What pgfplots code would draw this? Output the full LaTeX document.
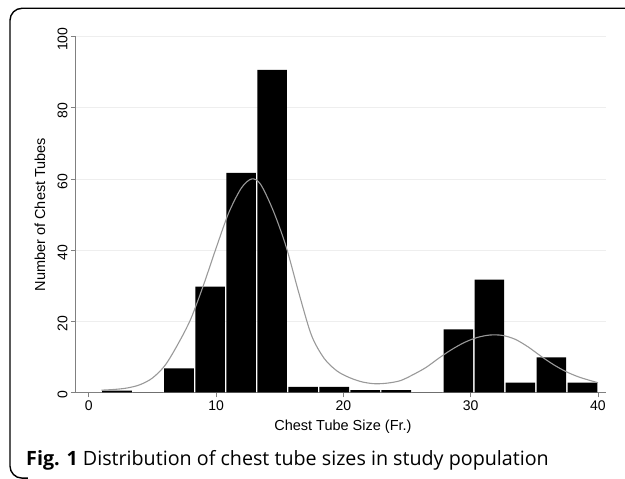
\documentclass[border=0pt]{standalone}
\usepackage{pgfplots}
\pgfplotsset{compat=1.18}
\usepackage{fontspec}
\setmainfont{Liberation Sans}
\newfontfamily\capfont{Open Sans}
\definecolor{gridc}{HTML}{EEEEEE}
\definecolor{axc}{HTML}{808080}
\definecolor{curvec}{HTML}{999999}
\begin{document}
\begin{tikzpicture}
\useasboundingbox (-76pt,-86.7pt) rectangle (549pt,392.3pt);
\draw[line width=1.4pt, rounded corners=12pt] (552pt,384pt) -- (-66pt,384pt) -- (-66pt,-85.8pt) -- (-48pt,-85.8pt);
\begin{axis}[
  at={(0pt,0pt)}, anchor=south west,
  scale only axis, width=529.6pt, height=355.6pt,
  xmin=-1, xmax=40.6, ymin=0, ymax=100,
  axis lines=left,
  axis line style={-, axc, line width=1pt},
  xtick={0,10,20,30,40}, ytick={0,20,40,60,80,100},
  tick align=outside, major tick length=5pt,
  tick style={axc, line width=0.8pt},
  ymajorgrids, grid style={gridc, line width=0.8pt},
  /pgf/number format/assume math mode=true,
  ticklabel style={font=\fontsize{14}{16}\selectfont},
  yticklabel style={rotate=90, anchor=south, xshift=-2.5pt},
  xlabel={Chest Tube Size (Fr.)},
  ylabel={Number of Chest Tubes},
  label style={font=\fontsize{14.5}{16}\selectfont},
  xlabel style={at={(axis description cs:0.504,-0.098)}, anchor=center},
  ylabel style={at={(axis description cs:-0.068,0.5)}, anchor=center},
  clip=false,
]
\addplot[ybar interval, fill=black, draw=none, bar interval width=0.955, bar interval shift=0.5] coordinates {
(1,0.5) (3.4375,0) (5.875,6.7) (8.3125,29.7) (10.75,61.7) (13.1875,90.7)
(15.625,1.5) (18.0625,1.5) (20.5,0.6) (22.9375,0.6) (25.375,0)
(27.8125,17.7) (30.25,31.7) (32.6875,2.7) (35.125,9.8) (37.5625,2.7) (40,2.7)
};
\addplot[curvec, line width=1.1pt, smooth, no marks] coordinates {
(1,0.6) (2,0.8) (3,1.2) (4,2.1) (5,4.0) (6,7.6) (7,13.5) (8,20.5) (9,30)
(10,40.5) (11,50.5) (12,57.5) (12.8,60) (13.5,58.5) (14.5,51) (15.5,41)
(16.5,28) (17.5,16) (18.5,9.5) (19.5,6) (20.5,4.1) (21.5,2.9) (22.5,2.4)
(23.5,2.6) (24.5,3.3) (25.5,5.0) (26.5,7.0) (27.5,9.6) (28.5,12) (29.5,14)
(30.5,15.4) (31.5,16.1) (32.5,16) (33.5,14.9) (34.5,12.8) (35.5,10.2)
(36.5,7.8) (37.5,5.8) (38.5,4.3) (39.5,3.2) (40,2.7)
};
\end{axis}
\node[anchor=base west, inner sep=0pt, font=\capfont\fontsize{19.7}{22}\selectfont] at (-50pt,-73.7pt) {\textbf{Fig. 1} Distribution of chest tube sizes in study population};
\end{tikzpicture}
\end{document}
